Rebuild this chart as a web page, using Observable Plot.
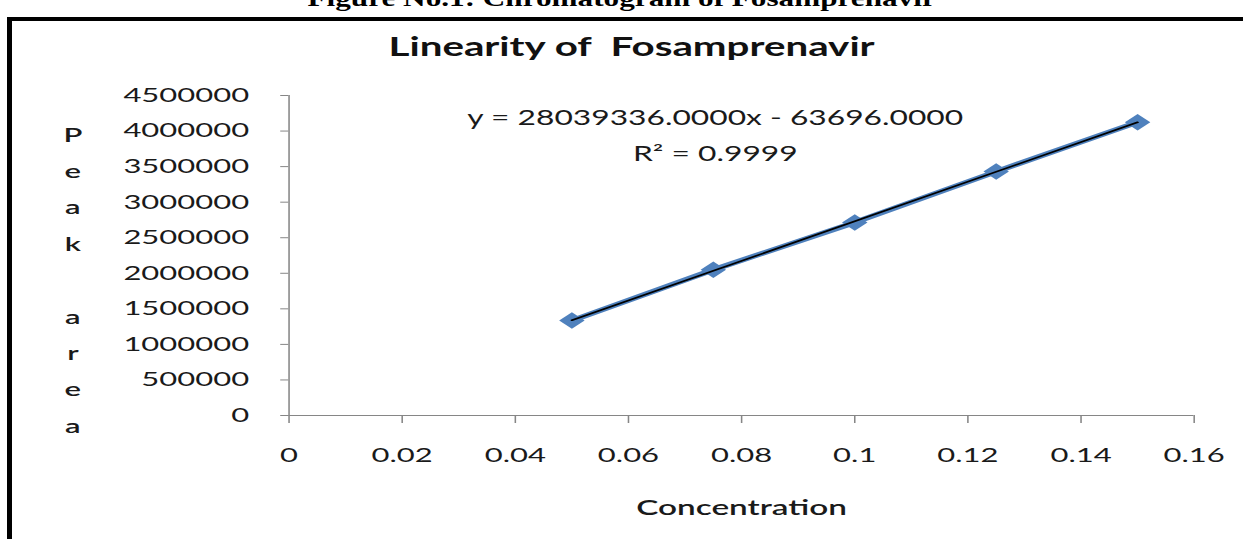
<!DOCTYPE html>
<html>
<head>
<meta charset="utf-8">
<script src="https://cdn.jsdelivr.net/npm/d3@7"></script>
<script src="https://cdn.jsdelivr.net/npm/@observablehq/plot@0.6"></script>
<style>
  html, body { margin: 0; padding: 0; background: #fff; }
  #wrap { position: relative; width: 1243px; height: 539px; overflow: hidden; background: #fff; }
  #cap { position: absolute; top: -15px; left: 0; width: 1243px; text-align: center;
         font: bold 24px "Liberation Serif", serif; color: #000; white-space: nowrap; }
  #border { position: absolute; left: 7px; top: 17px; width: 1400px; height: 700px;
            border-left: 5px solid #000; border-top: 4px solid #000; }
  #chart { position: absolute; left: 0; top: 0; transform-origin: 0 0; }
</style>
</head>
<body>
<div id="wrap">
  <div id="cap"><span id="capText"></span></div>
  <div id="chart"></div>
  <div id="border"></div>
</div>
<script>
// ---- data ----
const concentration = [0.05, 0.075, 0.1, 0.125, 0.15];
const peakArea = [1335000, 2050000, 2715000, 3430000, 4125000];
const xTicks = [0, 0.02, 0.04, 0.06, 0.08, 0.1, 0.12, 0.14, 0.16];
const yTicks = [0, 500000, 1000000, 1500000, 2000000, 2500000, 3000000, 3500000, 4000000, 4500000];
const captionText = "Figure No.1: Chromatogram of Fosamprenavir";
const titleText = "Linearity of\u00a0 Fosamprenavir";
const equationText = ["y = 28039336.0000x - 63696.0000", "R\u00b2 = 0.9999"];
const xLabel = "Concentration";
const yLabelLetters = ["P", "e", "a", "k", "\u00a0", "a", "r", "e", "a"];

const data = concentration.map((c, i) => ({c, a: peakArea[i]}));

// caption (cut off at the top, as in the reference)
const capSpan = document.getElementById("capText");
capSpan.textContent = captionText;
capSpan.style.display = "inline-block";
capSpan.style.transform = "scaleX(1.3)";

// chart drawn narrower and stretched horizontally like the reference picture
const W = 802;
const S = 1243 / W;
const blue = "#4F81BD";
const axisGray = "#868686";

const chart = Plot.plot({
  width: W,
  height: 539,
  marginLeft: 186,
  marginRight: 32,
  marginTop: 95,
  marginBottom: 124,
  style: {fontFamily: "Lato", fontSize: "20px", color: "#1a1a1a", background: "transparent", overflow: "visible"},
  x: {domain: [0, 0.16], axis: null},
  y: {domain: [0, 4500000], axis: null},
  marks: [
    Plot.ruleY([0], {stroke: axisGray}),
    Plot.ruleX([0], {stroke: axisGray}),
    Plot.axisY(yTicks, {tickSize: 5.2, tickPadding: 20.5, stroke: axisGray, tickFormat: d => String(d), label: null}),
    Plot.axisX(xTicks, {tickSize: 8, tickPadding: 24, stroke: axisGray, tickFormat: d => String(d), label: null}),
    Plot.line(data, {x: "c", y: "a", stroke: blue, strokeWidth: 5}),
    Plot.dot(data, {x: "c", y: "a", symbol: "diamond2", r: 7.4, fill: blue, stroke: "none"}),
    Plot.linearRegressionY(data, {x: "c", y: "a", stroke: "#000", strokeWidth: 1.6, ci: 0}),
    Plot.text([titleText], {frameAnchor: "top", dx: -71, dy: -48, lineAnchor: "middle", fontWeight: "bold", fontSize: 26, fill: "#111"}),
    Plot.text([equationText.join("\n")], {frameAnchor: "top", dx: -17, dy: 36, lineAnchor: "middle", lineHeight: 1.75, fontSize: 20.5, fill: "#1a1a1a"}),
    Plot.text([xLabel], {frameAnchor: "bottom", dx: 0, dy: 93, lineAnchor: "middle", fontWeight: 600, fontSize: 21.5, fill: "#1a1a1a"}),
    Plot.text([yLabelLetters.join("\n")], {frameAnchor: "left", dx: -139.5, dy: 20, lineAnchor: "middle", lineHeight: 1.82, fontWeight: 600, textAnchor: "middle", fill: "#1a1a1a"})
  ]
});

const holder = document.getElementById("chart");
holder.style.transform = `scaleX(${S})`;
holder.appendChild(chart);
</script>
</body>
</html>
